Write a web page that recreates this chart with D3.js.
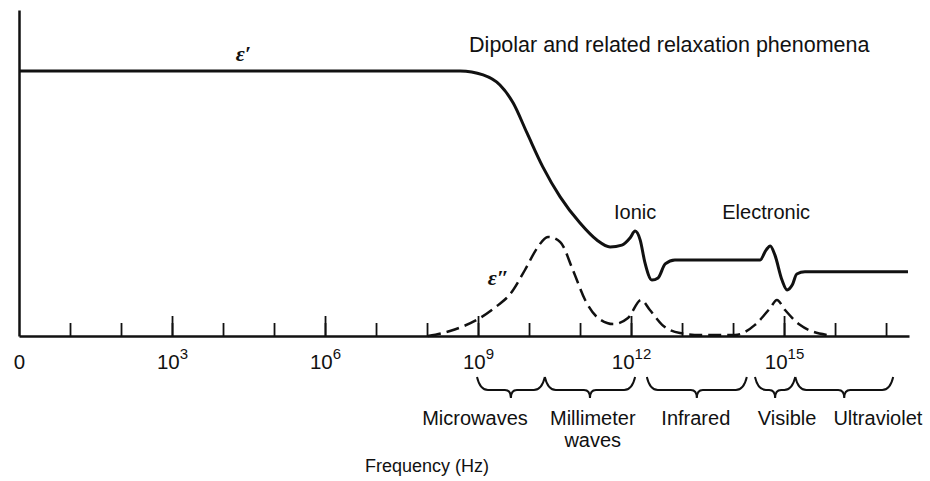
<!DOCTYPE html>
<html>
<head>
<meta charset="utf-8">
<script src="https://cdn.jsdelivr.net/npm/d3@7"></script>
<style>
  body { margin: 0; background: #fff; }
  text { font-family: "Liberation Sans", Arial, Helvetica, sans-serif; fill: #111; }
</style>
</head>
<body>
<div id="chart"></div>
<script>
// frequency axis is in decades (log10 Hz); "0" sits at the origin
const decades = d3.range(1, 18);
const majorDecades = [3, 6, 9, 12, 15];
const labelDecades = [0, 3, 6, 9, 12, 15];

const realLogF = [0, 8.65, 9.10, 9.43, 9.69, 9.96, 10.27, 10.61, 11.0, 11.33, 11.59, 11.82, 11.98, 12.08, 12.18, 12.27, 12.41, 12.53, 12.67, 12.86, 14.53, 14.65, 14.73, 14.82, 14.96, 15.06, 15.16, 15.25, 15.41, 17.43];
const realValue = [10.0, 10.0, 9.85, 9.47, 8.79, 7.66, 6.38, 5.25, 4.26, 3.62, 3.36, 3.43, 3.70, 3.96, 3.62, 2.79, 2.11, 2.19, 2.72, 2.87, 2.87, 3.25, 3.40, 3.06, 2.11, 1.74, 1.92, 2.34, 2.42, 2.42];

// epsilon'' (loss), dashed
const lossLogF = [8.02, 8.45, 9.04, 9.37, 9.63, 9.92, 10.16, 10.37, 10.61, 10.86, 11.10, 11.33, 11.65, 11.94, 12.20, 12.37, 12.61, 12.96, 13.35, 14.04, 14.43, 14.73, 14.86, 15.02, 15.31, 15.84];
const lossValue = [0, 0.19, 0.68, 1.13, 1.58, 2.49, 3.32, 3.74, 3.55, 2.49, 1.36, 0.72, 0.45, 0.68, 1.36, 0.98, 0.42, 0.11, 0.04, 0.04, 0.42, 1.06, 1.36, 0.98, 0.42, 0.04];

// spectral bands under the axis
const bandNames = [["Microwaves"], ["Millimeter", "waves"], ["Infrared"], ["Visible"], ["Ultraviolet"]];
const bandFrom = [8.98, 10.31, 12.31, 14.43, 15.22];
const bandTo = [10.31, 12.08, 14.27, 15.22, 17.14];

const width = 930, height = 481;

const svg = d3.select("#chart")
  .append("svg")
  .attr("width", width)
  .attr("height", height)
  .attr("xmlns", "http://www.w3.org/2000/svg");

const x = d3.scaleLinear().domain([0, 17.45]).range([19, 909]);
const y = d3.scaleLinear().domain([0, 12.3]).range([336, 10]);

// y axis (just the line)
svg.append("g")
  .attr("transform", "translate(19,0)")
  .call(d3.axisLeft(y).tickValues([]).tickSizeOuter(0))
  .call(g => g.select(".domain").attr("stroke", "#111").attr("stroke-width", 2.5));

// x axis line + small inward ticks
svg.append("g")
  .attr("transform", "translate(0,336)")
  .call(d3.axisTop(x).tickValues(decades).tickSize(13).tickSizeOuter(0).tickFormat(""))
  .call(g => g.select(".domain").attr("stroke", "#111").attr("stroke-width", 2.5))
  .call(g => g.selectAll(".tick line").attr("stroke", "#111").attr("stroke-width", 1.8));

// taller ticks every three decades
svg.append("g")
  .attr("transform", "translate(0,336)")
  .call(d3.axisTop(x).tickValues(majorDecades).tickSize(20).tickFormat(""))
  .call(g => g.select(".domain").remove())
  .call(g => g.selectAll(".tick line").attr("stroke", "#111").attr("stroke-width", 1.8));

// tick labels 0, 10^3 ...
const lab = svg.append("g")
  .attr("transform", "translate(0,336)")
  .call(d3.axisBottom(x).tickValues(labelDecades).tickSize(0).tickFormat(""))
  .call(g => g.select(".domain").remove());

lab.selectAll(".tick").append("text")
  .attr("y", 33)
  .attr("text-anchor", "middle")
  .style("font-size", "20.5px")
  .each(function (d) {
    const t = d3.select(this);
    if (d === 0) { t.text("0"); return; }
    t.append("tspan").text("10");
    t.append("tspan").attr("dy", -10).style("font-size", "15px").text(d);
  });

// curves
const realData = realLogF.map((f, i) => [f, realValue[i]]);
const lossData = lossLogF.map((f, i) => [f, lossValue[i]]);

const line = d3.line()
  .x(d => x(d[0]))
  .y(d => y(d[1]))
  .curve(d3.curveMonotoneX);

svg.append("path")
  .datum(realData)
  .attr("fill", "none")
  .attr("stroke", "#111")
  .attr("stroke-width", 3)
  .attr("d", line);

svg.append("path")
  .datum(lossData)
  .attr("fill", "none")
  .attr("stroke", "#111")
  .attr("stroke-width", 2.5)
  .attr("stroke-dasharray", "13,6")
  .attr("d", line);

// curve names
svg.append("text")
  .attr("x", x(4.4)).attr("y", 61)
  .attr("text-anchor", "middle")
  .style("font-family", "'Liberation Serif', serif")
  .style("font-style", "italic").style("font-weight", "bold")
  .style("font-size", "22px")
  .text("ε′");

svg.append("text")
  .attr("x", x(9.4)).attr("y", 285)
  .attr("text-anchor", "middle")
  .style("font-family", "'Liberation Serif', serif")
  .style("font-style", "italic").style("font-weight", "bold")
  .style("font-size", "22px")
  .text("ε″");

// mechanism labels
const notes = [
  { t: "Dipolar and related relaxation phenomena", f: 12.75, v: 10.7, size: 21.5 },
  { t: "Ionic", f: 12.08, v: 4.4, size: 20 },
  { t: "Electronic", f: 14.65, v: 4.4, size: 20 }
];
svg.selectAll(".note")
  .data(notes)
  .join("text")
  .attr("class", "note")
  .attr("x", d => x(d.f))
  .attr("y", d => y(d.v))
  .attr("text-anchor", "middle")
  .style("font-size", d => d.size + "px")
  .text(d => d.t);

// braces under the axis
const braceTop = 377, braceMid = 390, braceTip = 398;
function brace(x0, x1) {
  const m = (x0 + x1) / 2;
  return `M${x0},${braceTop} Q${x0 + 3},${braceMid} ${x0 + 11},${braceMid}` +
    ` L${m - 6},${braceMid} Q${m},${braceMid} ${m},${braceTip}` +
    ` Q${m},${braceMid} ${m + 6},${braceMid} L${x1 - 11},${braceMid}` +
    ` Q${x1 - 3},${braceMid} ${x1},${braceTop}`;
}

svg.selectAll(".brace")
  .data(bandNames)
  .join("path")
  .attr("class", "brace")
  .attr("fill", "none")
  .attr("stroke", "#111")
  .attr("stroke-width", 2)
  .attr("d", (d, i) => brace(x(bandFrom[i]), x(bandTo[i])));

// band label centres, nudged where the names crowd
const bandLabelAt = [8.94, 11.25, 13.27, 15.06, 16.84];
svg.selectAll(".band")
  .data(bandNames)
  .join("text")
  .attr("class", "band")
  .attr("x", (d, i) => x(bandLabelAt[i]))
  .attr("y", 425)
  .attr("text-anchor", "middle")
  .style("font-size", "20px")
  .each(function (d, i) {
    const t = d3.select(this);
    d.forEach((s, k) => {
      t.append("tspan")
        .attr("x", x(bandLabelAt[i]))
        .attr("dy", k === 0 ? 0 : 22)
        .text(s);
    });
  });

svg.append("text")
  .attr("x", 427)
  .attr("y", 472)
  .attr("text-anchor", "middle")
  .style("font-size", "18px")
  .text("Frequency (Hz)");
</script>
</body>
</html>
